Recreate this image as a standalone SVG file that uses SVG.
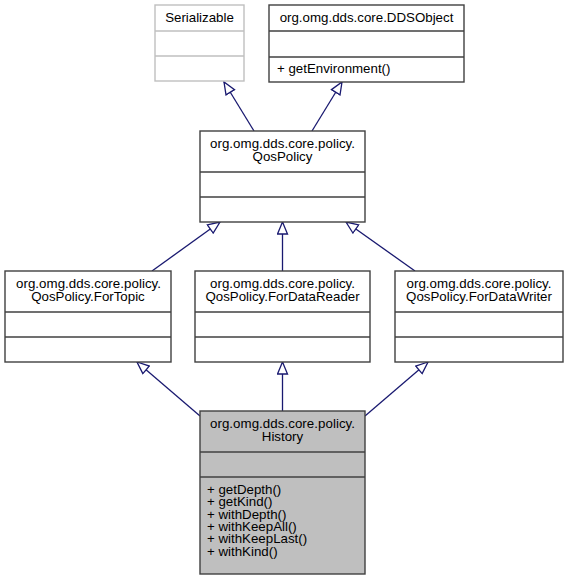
<svg xmlns="http://www.w3.org/2000/svg" width="568" height="581" viewBox="0 0 568 581">
<defs>
<style>
text{font-family:"Liberation Sans",Arial,sans-serif;font-size:13.3px;fill:#000}
.c{text-anchor:middle}
.box{fill:#fff;stroke:#404040;stroke-width:1.4}
.gray{fill:#fff;stroke:#bfbfbf;stroke-width:1.4}
.hl{fill:#bfbfbf;stroke:#404040;stroke-width:1.4}
.sep{stroke:#404040;stroke-width:1.4}
.sepg{stroke:#bfbfbf;stroke-width:1.4}
.edge{stroke:#191970;stroke-width:1.3;fill:none;marker-end:url(#tri)}
</style>
<marker id="tri" markerUnits="userSpaceOnUse" markerWidth="14" markerHeight="12" refX="12" refY="5" orient="auto" viewBox="-1 -1 14 12">
<path d="M0,0 L12,5 L0,10 Z" fill="#fff" stroke="#191970" stroke-width="1.3"/>
</marker>
</defs>
<rect width="568" height="581" fill="#fff"/>
<g id="connectors">
<line class="edge" x1="254" y1="131" x2="224" y2="82"/>
<line class="edge" x1="312" y1="131" x2="342" y2="82"/>
<line class="edge" x1="152" y1="271" x2="220" y2="222"/>
<line class="edge" x1="282.5" y1="271" x2="282.5" y2="222"/>
<line class="edge" x1="415" y1="271" x2="346" y2="222"/>
<line class="edge" x1="200" y1="416" x2="137" y2="362"/>
<line class="edge" x1="282.5" y1="411" x2="282.5" y2="362"/>
<line class="edge" x1="365" y1="416" x2="428" y2="362"/>
</g>
<g id="serializable">
<rect class="gray" x="155" y="5" width="89" height="76"/>
<line class="sepg" x1="155" y1="31" x2="244" y2="31"/>
<line class="sepg" x1="155" y1="56" x2="244" y2="56"/>
<text class="c" x="199.5" y="22">Serializable</text>
</g>
<g id="ddsobject">
<rect class="box" x="269" y="5" width="195" height="77"/>
<line class="sep" x1="269" y1="31" x2="464" y2="31"/>
<line class="sep" x1="269" y1="57" x2="464" y2="57"/>
<text class="c" x="366.5" y="22">org.omg.dds.core.DDSObject</text>
<text x="277" y="73">+ getEnvironment()</text>
</g>
<g id="qospolicy">
<rect class="box" x="200" y="131" width="165" height="91"/>
<line class="sep" x1="200" y1="172" x2="365" y2="172"/>
<line class="sep" x1="200" y1="197" x2="365" y2="197"/>
<text class="c" x="282.5" y="148" textLength="145" lengthAdjust="spacing">org.omg.dds.core.policy.</text>
<text class="c" x="282.5" y="161">QosPolicy</text>
</g>
<g id="fortopic">
<rect class="box" x="5" y="271" width="166" height="91"/>
<line class="sep" x1="5" y1="312" x2="171" y2="312"/>
<line class="sep" x1="5" y1="337" x2="171" y2="337"/>
<text class="c" x="88.5" y="288" textLength="145" lengthAdjust="spacing">org.omg.dds.core.policy.</text>
<text class="c" x="88" y="301">QosPolicy.ForTopic</text>
</g>
<g id="fordatareader">
<rect class="box" x="195" y="271" width="175" height="91"/>
<line class="sep" x1="195" y1="312" x2="370" y2="312"/>
<line class="sep" x1="195" y1="337" x2="370" y2="337"/>
<text class="c" x="282.5" y="288" textLength="145" lengthAdjust="spacing">org.omg.dds.core.policy.</text>
<text class="c" x="282.5" y="301">QosPolicy.ForDataReader</text>
</g>
<g id="fordatawriter">
<rect class="box" x="395" y="271" width="168" height="91"/>
<line class="sep" x1="395" y1="312" x2="563" y2="312"/>
<line class="sep" x1="395" y1="337" x2="563" y2="337"/>
<text class="c" x="479" y="288" textLength="145" lengthAdjust="spacing">org.omg.dds.core.policy.</text>
<text class="c" x="479" y="301">QosPolicy.ForDataWriter</text>
</g>
<g id="history">
<rect class="hl" x="200" y="411" width="165" height="163"/>
<line class="sep" x1="200" y1="452" x2="365" y2="452"/>
<line class="sep" x1="200" y1="477" x2="365" y2="477"/>
<text class="c" x="282.5" y="428" textLength="145" lengthAdjust="spacing">org.omg.dds.core.policy.</text>
<text class="c" x="282.5" y="441">History</text>
<text x="207" y="494">+ getDepth()</text>
<text x="207" y="506.3">+ getKind()</text>
<text x="207" y="518.6">+ withDepth()</text>
<text x="207" y="530.9">+ withKeepAll()</text>
<text x="207" y="543.2">+ withKeepLast()</text>
<text x="207" y="555.5">+ withKind()</text>
</g>
</svg>
